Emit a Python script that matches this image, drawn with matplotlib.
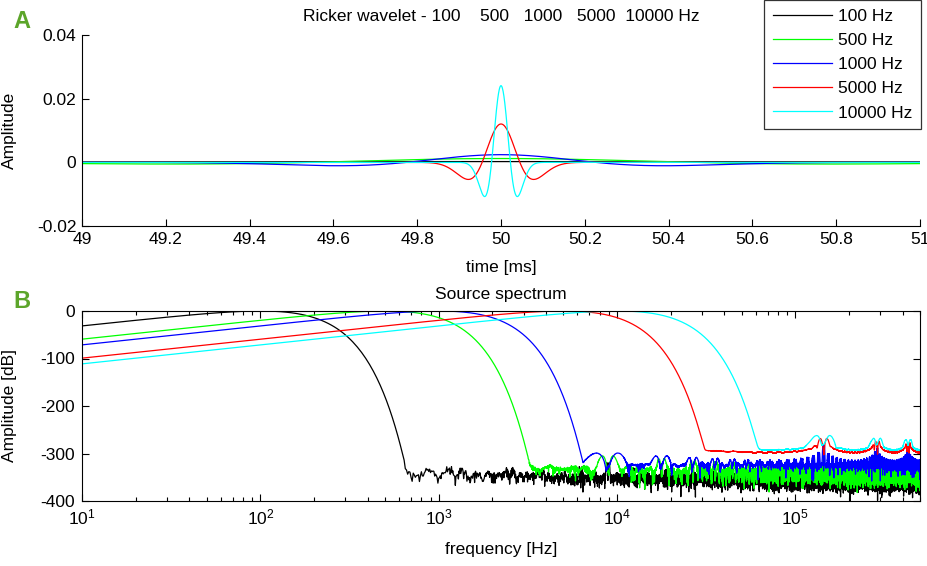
import numpy as np
import matplotlib
matplotlib.use("Agg")
import matplotlib.pyplot as plt
from matplotlib.ticker import LogLocator, NullFormatter

plt.rcParams['font.family'] = ['Liberation Sans', 'DejaVu Sans']
plt.rcParams['axes.unicode_minus'] = False

# Ricker wavelet peak frequencies and their line colours
peak_freqs_hz = [100, 500, 1000, 5000, 10000]
line_colors = ['#000000', '#00ff00', '#0000ff', '#ff0000', '#00ffff']
legend_labels = ['100 Hz', '500 Hz', '1000 Hz', '5000 Hz', '10000 Hz']

# Sampling setup: 1 MHz sampling, 100 ms record, wavelet centred at 50 ms
sample_rate_hz = 1.0e6
record_length_s = 0.1
wavelet_center_s = 0.05

time_ticks_ms = [49, 49.2, 49.4, 49.6, 49.8, 50, 50.2, 50.4, 50.6, 50.8, 51]
amp_ticks = [-0.02, 0, 0.02, 0.04]
db_ticks = [-400, -300, -200, -100, 0]

n_samples = int(round(record_length_s * sample_rate_hz))
t = np.arange(n_samples) / sample_rate_hz
freqs = np.fft.rfftfreq(n_samples, d=1.0 / sample_rate_hz)

wavelets = []
spectra_db = []
for fp in peak_freqs_hz:
    arg = (np.pi * fp * (t - wavelet_center_s)) ** 2
    w = (1.0 - 2.0 * arg) * np.exp(-arg)
    spec = np.abs(np.fft.rfft(w))
    w = w / spec.max()
    spec = np.abs(np.fft.rfft(w))
    wavelets.append(w)
    spectra_db.append(20.0 * np.log10(spec / spec.max() + 1e-300))

FS = 12.5
fig = plt.figure(figsize=(9.28, 5.66), dpi=100)
W, H = 928.0, 566.0
ylabel_x = (17 - 82) / (920 - 82)

# --- Panel A: wavelets in time ---
axA = fig.add_axes([82 / W, 1 - 226 / H, (920 - 82) / W, (226 - 35) / H])
for w, c, lab in zip(wavelets, line_colors, legend_labels):
    axA.plot(t * 1000.0, w, color=c, lw=0.9, label=lab)
axA.set_xlim(49, 51)
axA.set_ylim(-0.02, 0.04)
axA.set_xticks(time_ticks_ms)
axA.set_xticklabels([f"{v:g}" for v in time_ticks_ms])
axA.set_yticks(amp_ticks)
axA.set_yticklabels([f"{v:g}" for v in amp_ticks])
axA.spines['top'].set_visible(False)
axA.spines['right'].set_visible(False)
axA.tick_params(direction='in', length=5, width=0.8, labelsize=FS, pad=4)
axA.set_xlabel('time [ms]', fontsize=FS, labelpad=10)
axA.set_ylabel('Amplitude', fontsize=FS)
axA.yaxis.set_label_coords(ylabel_x, 0.5)
axA.set_title('Ricker wavelet - 100    500   1000   5000  10000 Hz',
              fontsize=FS, pad=10)

# --- Panel B: amplitude spectra ---
axB = fig.add_axes([82 / W, 1 - 501 / H, (920 - 82) / W, (501 - 311) / H])
for s, c in zip(spectra_db, line_colors):
    axB.plot(freqs[1:], s[1:], color=c, lw=0.9)
axB.set_xscale('log')
axB.set_xlim(10, 5e5)
axB.set_ylim(-400, 0)
axB.set_yticks(db_ticks)
axB.set_yticklabels([f"{v:g}" for v in db_ticks])
axB.xaxis.set_major_locator(LogLocator(base=10, numticks=10))
axB.xaxis.set_minor_locator(LogLocator(base=10, subs=np.arange(2, 10), numticks=20))
axB.xaxis.set_minor_formatter(NullFormatter())
axB.tick_params(which='major', direction='in', length=5, width=0.8,
                labelsize=FS, top=True, right=True, pad=5)
axB.tick_params(which='minor', direction='in', length=3, width=0.8,
                top=True, right=True)
axB.set_xlabel('frequency [Hz]', fontsize=FS, labelpad=10)
axB.set_ylabel('Amplitude [dB]', fontsize=FS)
axB.yaxis.set_label_coords(ylabel_x, 0.5)
axB.set_title('Source spectrum', fontsize=FS, pad=9)

for ax in (axA, axB):
    for sp in ax.spines.values():
        sp.set_linewidth(0.8)

# Legend box in the upper right corner
leg = fig.legend(*axA.get_legend_handles_labels(), loc='upper right',
                 bbox_to_anchor=(921 / W, 1.0), fontsize=FS, frameon=True,
                 fancybox=False, handlelength=3.4, labelspacing=0.52,
                 borderpad=0.5, handletextpad=0.35, borderaxespad=0)
leg.get_frame().set_edgecolor('black')
leg.get_frame().set_linewidth(0.9)

# Panel letters
fig.text(13 / W, 1 - 28 / H, 'A', color='#5ca52a', fontsize=17, fontweight='bold')
fig.text(13 / W, 1 - 308 / H, 'B', color='#5ca52a', fontsize=17, fontweight='bold')

fig.savefig('out.png', dpi=100)
